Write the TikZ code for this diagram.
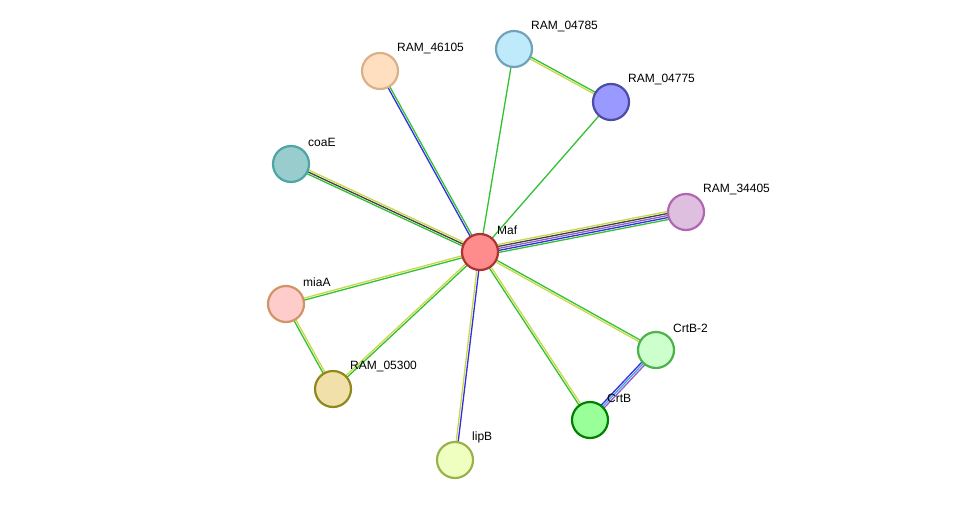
\documentclass[tikz,border=0pt]{standalone}
\usepackage{fontspec}
\setmainfont{Liberation Sans}
\usetikzlibrary{calc,backgrounds}
\definecolor{eg}{HTML}{33C033}
\definecolor{ey}{HTML}{C8D848}
\definecolor{eb}{HTML}{3030E0}
\definecolor{ek}{HTML}{404040}
\definecolor{ep}{HTML}{9060C0}
\definecolor{el}{HTML}{50A0E0}
\tikzset{
 prot/.style={circle,minimum size=36pt,inner sep=0pt,line width=2.2pt},
 lab/.style={anchor=south west,inner sep=0pt,font=\fontsize{12}{14}\selectfont},
 ed/.style={line width=1.3pt}
}
\newcommand{\pr}[6]{\node[prot,fill=#4,draw=#5] (#1) at (#2,#3) {};
 \node[lab] (#1-l) at ($(#1)+(17,-17)$) {#6};}
% \medge{a}{b}{offset/color,...}
\newcommand{\medge}[3]{\foreach \o/\c in {#3}{
 \draw[ed,\c] ($(#1)!\o pt!90:(#2)$) -- ($(#2)!\o pt!-90:(#1)$);}}
\begin{document}
\begin{tikzpicture}[x=1pt,y=-1pt]
\useasboundingbox (0,0) rectangle (976,506);
\pr{maf}{480}{252}{red!45}{red!60!black!80}{Maf}
\pr{r785}{514}{49}{cyan!25}{cyan!40!gray}{RAM\_04785}
\pr{r775}{611}{102}{blue!40!white}{blue!50!black!70}{RAM\_04775}
\pr{r105}{380}{71}{orange!25}{brown!60}{RAM\_46105}
\pr{coae}{291}{164}{teal!40}{teal!70}{coaE}
\pr{r405}{686}{212}{violet!25}{violet!60}{RAM\_34405}
\pr{miaa}{286}{304}{pink!80}{brown!70!pink}{miaA}
\pr{r300}{333}{389}{yellow!40!brown!40!white}{olive!80!gray}{RAM\_05300}
\pr{lipb}{455}{460}{lime!25}{lime!40!gray}{lipB}
\pr{crtb}{590}{420}{green!40}{green!50!black}{CrtB}
\pr{crt2}{656}{350}{green!20!white}{green!40!gray}{CrtB-2}
\begin{scope}[on background layer]
\medge{maf}{r785}{0/eg}
\medge{maf}{r775}{0/eg}
\medge{r785}{r775}{-1/ey,1/eg}
\medge{maf}{r105}{-1/eg,1/eb}
\medge{maf}{coae}{-2/ey,0/ek,2/eg}
\medge{maf}{r405}{-4/eg,-2/eb,0/ep,2/ek,4/ey}
\medge{maf}{miaa}{-1/ey,1/eg}
\medge{maf}{r300}{-1/ey,1/eg}
\medge{maf}{lipb}{-1/ey,1/eb}
\medge{maf}{crtb}{-1/eg,1/ey}
\medge{maf}{crt2}{-1/ey,1/eg}
\medge{miaa}{r300}{-1/eg,1/ey}
\medge{crtb}{crt2}{-2/ep,0/el,2/eb}
\end{scope}
\end{tikzpicture}
\end{document}
